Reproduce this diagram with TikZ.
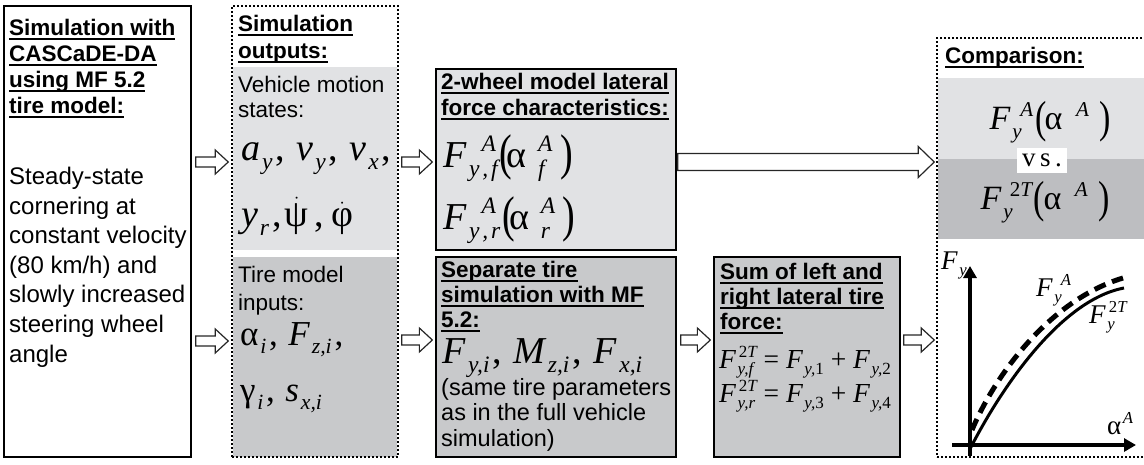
\documentclass[tikz,border=0pt]{standalone}
\usepackage{fontspec}
\usepackage{amsmath}
\usepackage{graphicx}
\setmainfont{Liberation Sans}
\newfontfamily\mfont{Liberation Serif}
\usetikzlibrary{calc,fit,arrows.meta}
\definecolor{lg}{HTML}{E1E2E4}
\definecolor{mg}{HTML}{C8C9CB}
\definecolor{dg}{HTML}{BDBEC1}
\newcommand\mi[1]{{\mfont\itshape #1}}
\newcommand\mr[1]{{\mfont #1}}
\makeatletter
\newcommand\scrfont{\@tempdima=.62\dimexpr\f@size pt\relax
  \fontsize{\strip@pt\@tempdima}{\strip@pt\@tempdima}\selectfont}
% \scrx{base}{subkern}{sub}{supkern}{sup}
\newcommand\scrx[5]{\mbox{#1%
  \setbox2\hbox{\kern#2\scrfont\mfont\itshape #3}\setbox4\hbox{\kern#4\scrfont\mfont\itshape #5}%
  \@tempdimb=\wd2 \ifdim\wd4>\@tempdimb \@tempdimb=\wd4\fi
  \rlap{\raisebox{.4em}{\box4}}\rlap{\raisebox{-.25em}{\box2}}\kern\@tempdimb}}
\makeatother
\newcommand\cm{\mr{\kern.08em,\kern.3em}}
\newcommand\bp[1]{\raisebox{-.07em}{\scalebox{1}[1.32]{\mfont #1}}}
\newcommand\ttl[1]{\setbox0\hbox{#1}\leavevmode\rlap{\rule[-4pt]{\wd0}{1.8pt}}\box0}
\newcommand\ttlfont{\fontsize{22.5}{26}\selectfont\bfseries}
\newcommand\msize[1]{\fontsize{#1}{#1}\selectfont}
% block arrow: #1 shaft half, #2 head half, #3 head length, #4 start coord, #5 end coord
\newcommand\blockarr[5]{\draw[harr] let \p1=(#4), \p2=(#5) in
  (\x1,\y1+#1pt) -- (\x2-#3pt,\y1+#1pt) -- (\x2-#3pt,\y1+#2pt) -- (\x2,\y1)
  -- (\x2-#3pt,\y1-#2pt) -- (\x2-#3pt,\y1-#1pt) -- (\x1,\y1-#1pt) -- cycle;}
\begin{document}
\begin{tikzpicture}[x=1pt,y=-1pt,
  solidbox/.style={draw, line width=1.3pt, inner sep=0pt},
  dashbox/.style={draw, line width=1.5pt, dash pattern=on 2pt off 2pt, inner sep=0pt},
  fillbox/.style={inner sep=0pt, draw=none},
  harr/.style={draw=black!85, fill=white, line width=1.2pt, line join=miter},
  txt/.style={anchor=north west, align=left, inner sep=0pt},
  mth/.style={anchor=base west, inner sep=0pt},
  axis/.style={line width=4pt, -{Triangle[length=12pt,width=13pt]}},
]
\useasboundingbox (0,0) rectangle (1144,464);

% ---------- left box ----------
\node[solidbox, fit={(4,6)(191,457)}] (L) {};
\node[txt, font=\ttlfont] (Lt) at (9,19) {\ttl{Simulation with}\\\ttl{CASCaDE-DA}\\\ttl{using MF 5.2}\\\ttl{tire model:}};
\node[txt, font=\fontsize{24}{29.6}\selectfont] (Lb) at (9,167) {Steady-state\\cornering at\\constant velocity\\(80 km/h) and\\slowly increased\\steering wheel\\angle};

% ---------- simulation outputs ----------
\node[fillbox, fill=lg, fit={(233,67)(397,250)}] (Og1) {};
\node[fillbox, fill=mg, fit={(233,257)(397,457)}] (Og2) {};
\node[dashbox, fit={(232,6)(398,457)}] (O) {};
\node[txt, font=\fontsize{22.5}{27}\selectfont\bfseries] (Ot) at (238,15) {\ttl{Simulation}\\\ttl{outputs:}};
\node[txt, font=\fontsize{22.5}{25}\selectfont] (Ov) at (238,76) {Vehicle motion\\states:};
\node[mth, font=\msize{38}] (Om1) at (241,160) {\scrx{\mi{a}}{.05em}{y}{0pt}{}\cm\scrx{\mi{v}}{.05em}{y}{0pt}{}\cm\scrx{\mi{v}}{.05em}{x}{0pt}{}\mr{\kern.08em,}};
\node[mth, font=\msize{38}] (Om2) at (241,226) {\scrx{\mi{y}}{.05em}{r}{0pt}{}\mr{\kern.08em,\kern.08em}$\dot{\text{\mfont ψ}}$\mr{\kern.15em,\kern.2em}$\dot{\text{\mfont φ}}$};
\node[txt, font=\fontsize{22.5}{28}\selectfont] (Oi) at (238,266) {Tire model\\inputs:};
\node[mth, font=\msize{35}] (Om3) at (240,345) {\scrx{\mr{α}}{.05em}{i}{0pt}{}\cm\scrx{\mi{F}}{.06em}{z,i}{0pt}{}\mr{\kern.08em,}};
\node[mth, font=\msize{35}] (Om4) at (240,401) {\scrx{\mr{γ}}{.05em}{i}{0pt}{}\cm\scrx{\mi{s}}{.05em}{x,i}{0pt}{}};

% ---------- 2-wheel model ----------
\node[solidbox, fill=lg, fit={(436,69)(676,250)}] (W) {};
\node[txt, font=\ttlfont] (Wt) at (441,73) {\ttl{2-wheel model lateral}\\\ttl{force characteristics:}};
\node[mth, font=\msize{38}] (Wm1) at (443,167) {\scrx{\mi{F}}{.07em}{y\kern.12em,\kern.12em f}{.4em}{A}\kern.05em\bp{(}\kern-.14em\scrx{\mr{α}}{.3em}{f}{.3em}{A}\kern.2em\bp{)}};
\node[mth, font=\msize{38}] (Wm2) at (443,229) {\scrx{\mi{F}}{.07em}{y\kern.12em,\kern.12em r}{.4em}{A}\kern.05em\bp{(}\kern-.14em\scrx{\mr{α}}{.3em}{r}{.3em}{A}\kern.2em\bp{)}};

% ---------- separate tire simulation ----------
\node[solidbox, fill=mg, fit={(436,257)(676,457)}] (S) {};
\node[txt, font=\fontsize{22.5}{25}\selectfont\bfseries] (St) at (441,261) {\ttl{Separate tire}\\\ttl{simulation with MF}\\\ttl{5.2:}};
\node[mth, font=\msize{38}] (Sm) at (442,363) {\scrx{\mi{F}}{.07em}{y,i}{0pt}{}\cm\scrx{\mi{M}}{.07em}{z,i}{0pt}{}\cm\scrx{\mi{F}}{.07em}{x,i}{0pt}{}};
\node[txt, font=\fontsize{23.5}{25.5}\selectfont] (Sb) at (441,378) {(same tire parameters\\as in the full vehicle\\simulation)};

% ---------- sum ----------
\node[solidbox, fill=mg, fit={(714,257)(900,457)}] (M) {};
\node[txt, font=\fontsize{22.5}{25}\selectfont\bfseries] (Mt) at (720,263) {\ttl{Sum of left and}\\\ttl{right lateral tire}\\\ttl{force:}};
\node[mth, font=\msize{27.5}] (Me1) at (719,368) {\scrx{\mi{F}}{.06em}{y,f}{.1em}{\upshape2\itshape T}\mr{\ =\ }\scrx{\mi{F}}{.06em}{y,\upshape1}{0pt}{}\mr{\ +\ }\scrx{\mi{F}}{.06em}{y,\upshape2}{0pt}{}};
\node[mth, font=\msize{27.5}] (Me2) at (719,402) {\scrx{\mi{F}}{.06em}{y,r}{.1em}{\upshape2\itshape T}\mr{\ =\ }\scrx{\mi{F}}{.06em}{y,\upshape3}{0pt}{}\mr{\ +\ }\scrx{\mi{F}}{.06em}{y,\upshape4}{0pt}{}};

% ---------- comparison ----------
\node[fillbox, fill=lg, fit={(938,78)(1144,159)}] (Cg1) {};
\node[fillbox, fill=dg, fit={(938,159)(1144,239)}] (Cg2) {};
\node[dashbox, fit={(937,38)(1152,457)}] (C) {};
\node[txt, font=\ttlfont] (Ct) at (945,47) {\ttl{Comparison:}};
\node[font=\msize{34}, inner sep=0pt] (Cm1) at (1050,122) {\scrx{\mi{F}}{.06em}{y}{.3em}{A}\kern.05em\bp{(}\kern-.05em\scrx{\mr{α}}{0pt}{}{.4em}{A}\kern.3em\bp{)}};
\node[font=\msize{34}, inner sep=0pt] (Cm2) at (1045,202) {\scrx{\mi{F}}{.06em}{y}{.25em}{\upshape2\itshape T}\kern.05em\bp{(}\kern-.05em\scrx{\mr{α}}{0pt}{}{.4em}{A}\kern.3em\bp{)}};
\node[fill=white, inner xsep=5pt, inner ysep=0pt, minimum height=25pt, font=\mfont\fontsize{27}{27}\selectfont] (vs) at (1042,160) {v\,s\,.};

% graph
\coordinate (yb) at (970,456);
\coordinate (yt) at (970,266);
\coordinate (xl) at (952,445);
\coordinate (xr) at (1136,445);
\draw[axis] (yb) -- (yt);
\draw[axis] (xl) -- (xr);
\coordinate (c0) at (970,449);
\coordinate (c1) at (1124,288);
\draw[line width=3pt] (c0) .. controls (1000,390) and (1060,300) .. (c1);
\coordinate (d0) at (972,430);
\coordinate (d1) at (1123,278);
\draw[line width=5pt, dash pattern=on 12pt off 7pt] (d0) .. controls (995,375) and (1050,300) .. (d1);
\node[mth, font=\msize{27}] (Fy) at (941,269) {\scrx{\mi{F}}{.06em}{y}{0pt}{}};
\node[mth, font=\msize{27}] (FyA) at (1036,296) {\scrx{\mi{F}}{.06em}{y}{.3em}{A}};
\node[mth, font=\msize{27}] (Fy2) at (1089,323) {\scrx{\mi{F}}{.06em}{y}{.12em}{\upshape2\itshape T}};
\node[mth, font=\msize{27}] (al) at (1107,434) {\scrx{\mr{α}}{0pt}{}{.06em}{A}};

% ---------- arrows ----------
\path (L.east |- 0,162) ++(4,0) coordinate (a1s);
\path (O.west |- 0,162) ++(-3,0) coordinate (a1e);
\path (L.east |- 0,341) ++(4,0) coordinate (a2s);
\path (O.west |- 0,341) ++(-3,0) coordinate (a2e);
\path (O.east |- 0,162) ++(3,0) coordinate (a3s);
\path (W.west |- 0,162) ++(-3,0) coordinate (a3e);
\path (O.east |- 0,340) ++(3,0) coordinate (a4s);
\path (S.west |- 0,340) ++(-3,0) coordinate (a4e);
\path (S.east |- 0,340) ++(4,0) coordinate (a5s);
\path (M.west |- 0,340) ++(-3,0) coordinate (a5e);
\path (M.east |- 0,340) ++(3,0) coordinate (a6s);
\path (C.west |- 0,340) ++(-2,0) coordinate (a6e);
\path (W.east |- 0,162) ++(1,0) coordinate (a7s);
\path (C.west |- 0,162) ++(-2,0) coordinate (a7e);
\blockarr{5}{12}{13}{a1s}{a1e}
\blockarr{5}{12}{13}{a2s}{a2e}
\blockarr{5}{12}{13}{a3s}{a3e}
\blockarr{5}{12}{13}{a4s}{a4e}
\blockarr{5}{12}{13}{a5s}{a5e}
\blockarr{5}{12}{13}{a6s}{a6e}
\blockarr{8.5}{15.5}{16}{a7s}{a7e}
\end{tikzpicture}
\end{document}
